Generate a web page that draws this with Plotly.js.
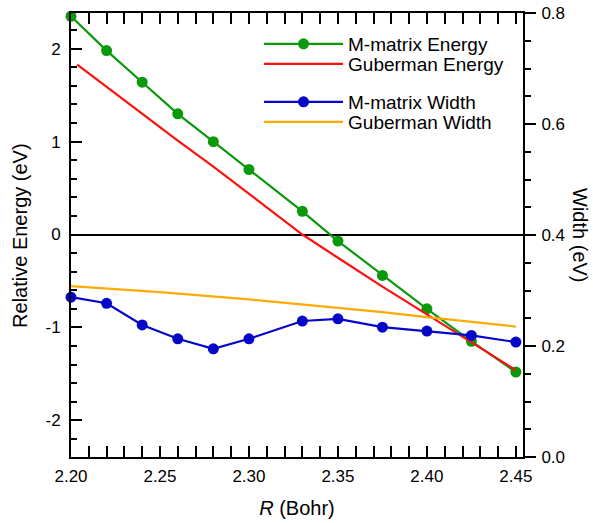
<!DOCTYPE html>
<html>
<head>
<meta charset="utf-8">
<script src="https://cdn.plot.ly/plotly-3.0.1.min.js"></script>
<style>html,body{margin:0;padding:0;background:#fff}#chart{width:593px;height:523px}</style>
</head>
<body>
<div id="chart"></div>
<script>
// M-matrix results
const mR = [2.20, 2.22, 2.24, 2.26, 2.28, 2.30, 2.33, 2.35, 2.375, 2.40, 2.425, 2.45];
const mEnergy = [2.35, 1.98, 1.64, 1.30, 1.00, 0.70, 0.25, -0.07, -0.44, -0.80, -1.15, -1.48];
const mWidth = [0.288, 0.277, 0.238, 0.213, 0.195, 0.213, 0.245, 0.249, 0.234, 0.227, 0.219, 0.207];
// Guberman results
const gER = [2.2035, 2.22, 2.24, 2.26, 2.28, 2.30, 2.31, 2.32, 2.33, 2.35, 2.375, 2.40, 2.425, 2.45];
const gEnergy = [1.83, 1.59, 1.30, 1.01, 0.73, 0.44, 0.29, 0.14, 0.0, -0.25, -0.56, -0.86, -1.16, -1.46];
const gWR = [2.20, 2.25, 2.30, 2.34, 2.375, 2.40, 2.425, 2.45];
const gWidth = [0.308, 0.297, 0.284, 0.272, 0.261, 0.252, 0.244, 0.235];
// tick labels
const eTickVals = [-2, -1, 0, 1, 2];
const eTickText = ['-2', '-1', '0', '1', '2'];
const seriesNames = ['M-matrix Energy', 'Guberman Energy', 'M-matrix Width', 'Guberman Width'];

const FONT = 'Liberation Sans, Arial, Helvetica, sans-serif';
const GREEN = '#0a990a', RED = '#ff1010', BLUE = '#0606c8', ORANGE = '#ffaa00';

const traces = [
  {x: mR, y: mEnergy, name: seriesNames[0], mode: 'lines+markers', legend: 'legend',
   line: {color: GREEN, width: 2.2}, marker: {color: GREEN, size: 11}, cliponaxis: false},
  {x: gER, y: gEnergy, name: seriesNames[1], mode: 'lines', legend: 'legend2',
   line: {color: RED, width: 2.2}},
  {x: mR, y: mWidth, name: seriesNames[2], mode: 'lines+markers', legend: 'legend3', yaxis: 'y2',
   line: {color: BLUE, width: 2.2}, marker: {color: BLUE, size: 11}, cliponaxis: false},
  {x: gWR, y: gWidth, name: seriesNames[3], mode: 'lines', legend: 'legend4', yaxis: 'y2',
   line: {color: ORANGE, width: 2.2}}
];

function leg(y) {
  return {x: 0.416, y: y, xanchor: 'left', yanchor: 'middle', itemwidth: 79,
          font: {size: 19}, bgcolor: 'rgba(0,0,0,0)', borderwidth: 0};
}

const layout = {
  width: 593, height: 523,
  margin: {l: 71, r: 70, t: 13, b: 66},
  paper_bgcolor: '#fff', plot_bgcolor: '#fff',
  font: {family: FONT, size: 17, color: '#000'},
  showlegend: true,
  legend: leg(0.9302), legend2: leg(0.8851), legend3: leg(0.7995), legend4: leg(0.7545),
  xaxis: {range: [2.2, 2.454], showgrid: false, zeroline: false, showline: true, linewidth: 2, linecolor: '#000',
          mirror: 'allticks', ticks: 'inside', ticklen: 11, tickwidth: 2, tickcolor: '#000',
          dtick: 0.05, tick0: 2.2, tickformat: '.2f', ticklabelstandoff: 3,
          minor: {dtick: 0.01, ticks: 'inside', ticklen: 6, tickwidth: 2, tickcolor: '#000'},
          title: {text: '<i>R</i> (Bohr)', font: {size: 20}, standoff: 16}},
  yaxis: {range: [-2.395, 2.385], showgrid: false, showline: true, linewidth: 2, linecolor: '#000',
          zeroline: true, zerolinecolor: '#000', zerolinewidth: 2,
          ticks: 'inside', ticklen: 11, tickwidth: 2, tickcolor: '#000',
          tickvals: eTickVals, ticktext: eTickText, ticklabelstandoff: 5,
          minor: {dtick: 0.2, tick0: 0, ticks: 'inside', ticklen: 6, tickwidth: 2, tickcolor: '#000'}},
  yaxis2: {range: [0, 0.8], overlaying: 'y', side: 'right', showgrid: false, zeroline: false,
           showline: true, linewidth: 2, linecolor: '#000',
           ticks: 'outside', ticklen: 11, tickwidth: 2, tickcolor: '#000',
           dtick: 0.2, tick0: 0, tickformat: '.1f', ticklabelstandoff: 2,
           minor: {dtick: 0.05, ticks: 'outside', ticklen: 6, tickwidth: 2, tickcolor: '#000'}},
  annotations: [
    {text: 'Relative Energy (eV)', xref: 'paper', yref: 'paper', x: -0.113, y: 0.5,
     textangle: -90, showarrow: false, xanchor: 'center', yanchor: 'middle', font: {size: 20}},
    {text: 'Width (eV)', xref: 'paper', yref: 'paper', x: 1.126, y: 0.5,
     textangle: 90, showarrow: false, xanchor: 'center', yanchor: 'middle', font: {size: 20}}
  ]
};

Plotly.newPlot('chart', traces, layout, {displayModeBar: false, staticPlot: true});
</script>
</body>
</html>
